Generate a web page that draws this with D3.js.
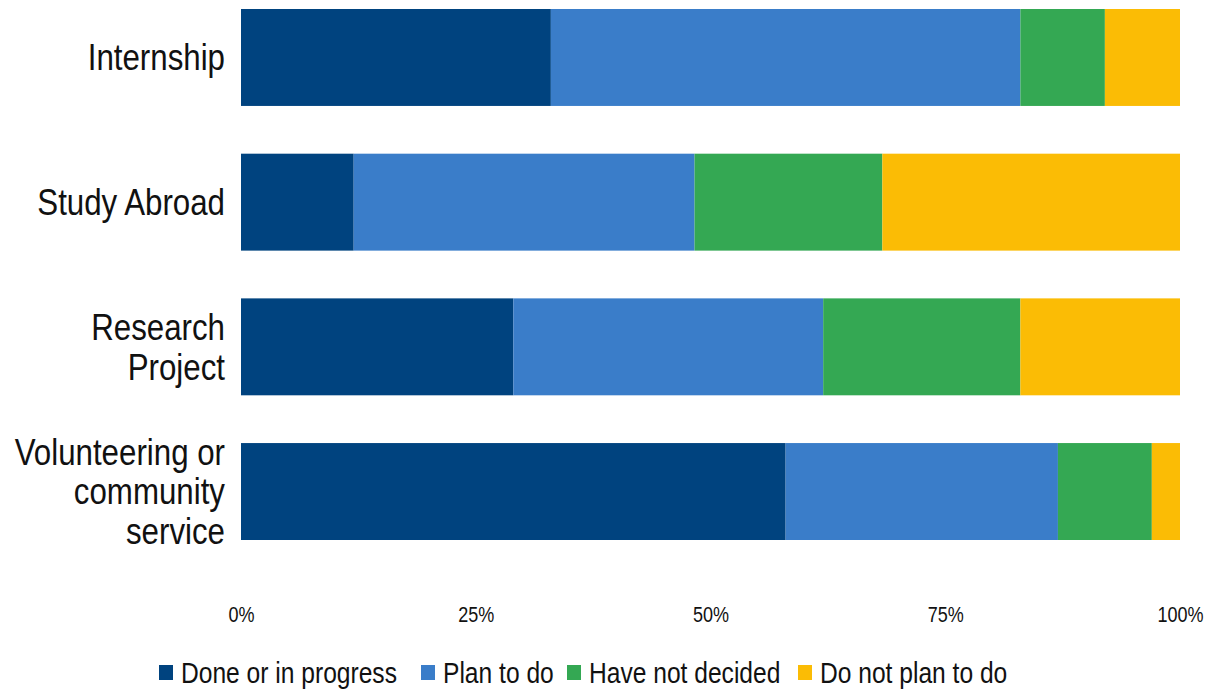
<!DOCTYPE html>
<html><head><meta charset="utf-8">
<script src="https://cdn.jsdelivr.net/npm/d3@7"></script>
<style>body{margin:0;background:#fff}svg{display:block}text{font-family:"Liberation Sans",Arial,sans-serif;fill:#111}</style>
</head><body><svg id="c" width="1207" height="689"></svg>
<script>
const categories = ["Internship","Study Abroad","Research Project","Volunteering or community service"];
const categoryLines = [["Internship"],["Study Abroad"],["Research","Project"],["Volunteering or","community","service"]];
const seriesNames = ["Done or in progress","Plan to do","Have not decided","Do not plan to do"];
const doneValues = [33,12,29,58];
const planValues = [50,36.3,33,29];
const undecidedValues = [9,20,21,10];
const notPlanValues = [8,31.7,17,3];
const tickValues = [0,0.25,0.5,0.75,1];
const tickLabels = ["0%","25%","50%","75%","100%"];
const colors = ["#00437F","#3A7DC9","#34A853","#FBBC05"];

const NARROW = 0.82;
const LABEL_NARROW = 0.845;
const svg = d3.select("#c");
const x = d3.scaleLinear().domain([0,1]).range([241,1180]);
const y = d3.scaleBand().domain(categories).range([9,540]).paddingInner(0.33).paddingOuter(0);

const rows = categories.map((c,i)=>({cat:c, "Done or in progress":doneValues[i], "Plan to do":planValues[i], "Have not decided":undecidedValues[i], "Do not plan to do":notPlanValues[i]}));
const stack = d3.stack().keys(seriesNames).offset(d3.stackOffsetExpand)(rows);
const color = d3.scaleOrdinal().domain(seriesNames).range(colors);

svg.append("g").selectAll("g").data(stack).join("g").attr("fill",d=>color(d.key))
 .selectAll("rect").data(d=>d).join("rect")
 .attr("x",d=>x(d[0])).attr("width",d=>x(d[1])-x(d[0]))
 .attr("y",d=>y(d.data.cat)).attr("height",y.bandwidth());

// category labels
const lh = 39.5;
categories.forEach((c,i)=>{
  const lines = categoryLines[i];
  const cy = y(c)+y.bandwidth()/2;
  const g = svg.append("g").attr("transform",`translate(225,${cy}) scale(${LABEL_NARROW},1)`);
  const t = g.append("text").attr("text-anchor","end").attr("font-size",37);
  lines.forEach((l,j)=>{
    t.append("tspan").attr("x",0).attr("y",(j-(lines.length-1)/2)*lh).attr("dy","0.35em").text(l);
  });
});

// x axis
const ax = d3.axisBottom(x).tickValues(tickValues).tickFormat((d,i)=>tickLabels[i]).tickSize(0).tickPadding(0);
const gx = svg.append("g").attr("transform","translate(0,614)").call(ax);
gx.select(".domain").remove();
gx.selectAll("text").attr("font-size",22).attr("dy","0.35em").attr("y",0)
 .attr("transform",`scale(${NARROW},1)`).style("fill","#111")
 .style("font-family",'"Liberation Sans",Arial,sans-serif');

// legend
const legendX = [159,421,567,798];
const lg = svg.append("g").attr("transform","translate(0,672)");
seriesNames.forEach((s,i)=>{
  lg.append("rect").attr("x",legendX[i]).attr("y",-7).attr("width",14).attr("height",15).attr("fill",colors[i]);
  lg.append("g").attr("transform",`translate(${legendX[i]+22},0) scale(${NARROW},1)`)
    .append("text").attr("x",0).attr("y",0).attr("dy","0.35em").attr("font-size",30).text(s);
});
</script></body></html>
